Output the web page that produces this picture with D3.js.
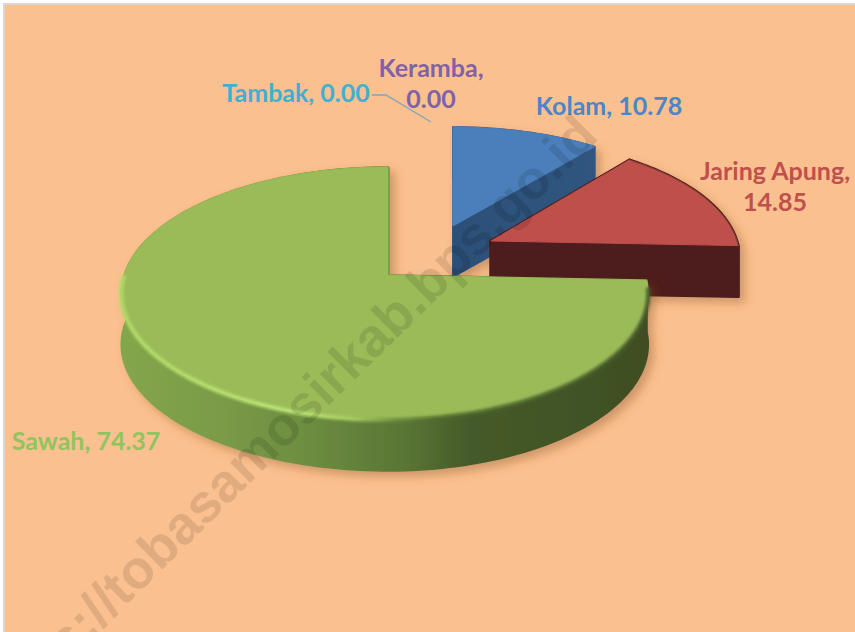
<!DOCTYPE html>
<html><head><meta charset="utf-8">
<script src="https://cdn.jsdelivr.net/npm/d3@7"></script>
<style>html,body{margin:0;background:#fff}svg{display:block}</style>
</head><body><svg id="c" width="855" height="632"></svg>
<script>
const categories = ["Kolam", "Jaring Apung", "Sawah", "Tambak", "Keramba"];
const values = [10.78, 14.85, 74.37, 0.00, 0.00];
const topColors = ["#4C7FBB", "#BE4F4C", "#9BBB59", "#4BACC6", "#8064A2"];
const labelColors = ["#4A86C8", "#C0504D", "#8FC45E", "#3FB0D0", "#7F62A8"];
const labelLines = [["Kolam, 10.78"], ["Jaring Apung,", "14.85"], ["Sawah, 74.37"], ["Tambak, 0.00"], ["Keramba,", "0.00"]];
const labelX = [609, 775, 86, 296, 431];
const labelY = [115, 180, 450, 102, 77];
const watermark = "https://tobasamosirkab.bps.go.id";

// exploded slice placement in the projected plane: apex and scale factors
const apexX = [453, 491, 388], apexY = [226, 241, 275];
const scaleU = [0.978, 0.955, 1], scaleV = [0.917, 0.935, 1], scaleWest = 1.025;

const W = 855, H = 632, depth = 51, persp = 0.146;
const rx = d3.scaleLinear().domain([0, 1]).range([0, 257.5]);
const ry = d3.scaleLinear().domain([0, 1]).range([0, 123.8]);

const svg = d3.select("#c");
const defs = svg.append("defs");

function grad(id, x1, x2, stops) {
  const g = defs.append("linearGradient").attr("id", id)
    .attr("gradientUnits", "userSpaceOnUse").attr("x1", x1).attr("x2", x2).attr("y1", 0).attr("y2", 0);
  stops.forEach(([o, c, a]) => g.append("stop").attr("offset", o).attr("stop-color", c).attr("stop-opacity", a === undefined ? 1 : a));
}
grad("sideG", 120, 650, [[0, "#84A64B"], [0.2, "#7A9A47"], [0.36, "#6C8C40"], [0.54, "#597534"], [0.66, "#455A29"], [1, "#3F4E23"]]);
grad("edgeG", 120, 650, [[0, "#B4DC68"], [0.33, "#BFE878"], [0.44, "#A8CC62"], [0.52, "#6E8C3C"], [0.6, "#4F6A2B"], [1, "#45592A"]]);
grad("sideB", 450, 600, [[0, "#2C5078"], [1, "#30557F"]]);
grad("sideR", 490, 745, [[0, "#4E1C1D"], [1, "#4E1C1D"]]);

const sh = defs.append("filter").attr("id", "shadow").attr("x", "-15%").attr("y", "-15%").attr("width", "130%").attr("height", "130%");
sh.append("feDropShadow").attr("dx", 5).attr("dy", 5).attr("stdDeviation", 5).attr("flood-color", "#7a4a20").attr("flood-opacity", 0.35);
defs.append("filter").attr("id", "soft").append("feGaussianBlur").attr("stdDeviation", 1.6);

svg.append("rect").attr("width", W).attr("height", H).attr("fill", "#fff");
svg.append("rect").attr("x", 3).attr("y", 3).attr("width", W).attr("height", H).attr("fill", "#D9D9D9");
svg.append("rect").attr("x", 5).attr("y", 5).attr("width", W).attr("height", H).attr("fill", "#FBC08F");

const pie = d3.pie().sort(null).value(d => d)(values);
const line = d3.line();

function project(i, angle, r) {
  const su = Math.sin(angle);
  const u = r * su * scaleU[i] * (su < 0 ? scaleWest : 1);
  const v = r * Math.cos(angle);
  const w = 1 + persp * v;
  return [apexX[i] + rx(u) / w, apexY[i] - ry(v * scaleV[i]) / w];
}
function arcPts(i, a0, a1) {
  const n = Math.max(2, Math.ceil((a1 - a0) * 40));
  return d3.range(n + 1).map(k => project(i, a0 + (a1 - a0) * k / n, 1));
}
const down = p => [p[0], p[1] + depth];
const sideFill = ["url(#sideB)", "url(#sideR)", "url(#sideG)"];
const sideStroke = [1.5, 3, 1.5];

// back to front: Kolam, Jaring Apung, Sawah
[0, 1, 2].forEach(i => {
  const s = pie[i];
  const g = svg.append("g").attr("filter", "url(#shadow)");
  const arc = arcPts(i, s.startAngle, s.endAngle);
  const apex = project(i, 0, 0);
  const quads = [
    [apex, arc[0], down(arc[0]), down(apex)],
    [apex, arc[arc.length - 1], down(arc[arc.length - 1]), down(apex)],
    arc.concat(arc.map(down).reverse())
  ];
  quads.forEach(q => g.append("path").attr("d", line(q) + "Z")
    .attr("fill", sideFill[i]).attr("stroke", sideFill[i]).attr("stroke-width", sideStroke[i]).attr("stroke-linejoin", "round"));
  g.append("path").attr("d", line([apex].concat(arc)) + "Z").attr("fill", topColors[i])
    .attr("stroke", topColors[i]).attr("stroke-width", 1).attr("stroke-linejoin", "round");
  if (i === 2) {
    const front = arcPts(i, s.startAngle + 0.06, s.startAngle + 3.1);
    g.append("path").attr("d", line(front)).attr("fill", "none").attr("stroke", "url(#edgeG)")
      .attr("stroke-width", 4).attr("filter", "url(#soft)");
    g.append("path").attr("d", line([apex, arc[arc.length - 1]])).attr("fill", "none")
      .attr("stroke", "#7F9E4A").attr("stroke-width", 2).attr("transform", "translate(1,0)");
  }
  if (i === 1) {
    g.append("path").attr("d", line(arc)).attr("fill", "none").attr("stroke", "#7A3533").attr("stroke-width", 0.8);
  }
});

// leader line of the zero-value Tambak label
svg.append("path").attr("d", line([[372, 95], [386, 95], [431, 122]]))
  .attr("fill", "none").attr("stroke", "#7FA6B8").attr("stroke-width", 1.3);

// data labels
const txt = svg.append("g").attr("font-family", "Lato, 'Open Sans', sans-serif")
  .attr("font-weight", 700).attr("font-size", 25).attr("text-anchor", "middle");
categories.forEach((c, i) => {
  labelLines[i].forEach((t, k) => txt.append("text").attr("x", labelX[i]).attr("y", labelY[i] + k * 31)
    .attr("fill", labelColors[i]).text(t));
});

// watermark
svg.append("text").attr("transform", "translate(600,138) rotate(-44.6)")
  .attr("text-anchor", "end").attr("font-family", "'Liberation Sans', Arial, sans-serif")
  .attr("font-weight", 700).attr("font-size", 54).attr("fill", "#000").attr("fill-opacity", 0.11)
  .text(watermark);
</script></body></html>
